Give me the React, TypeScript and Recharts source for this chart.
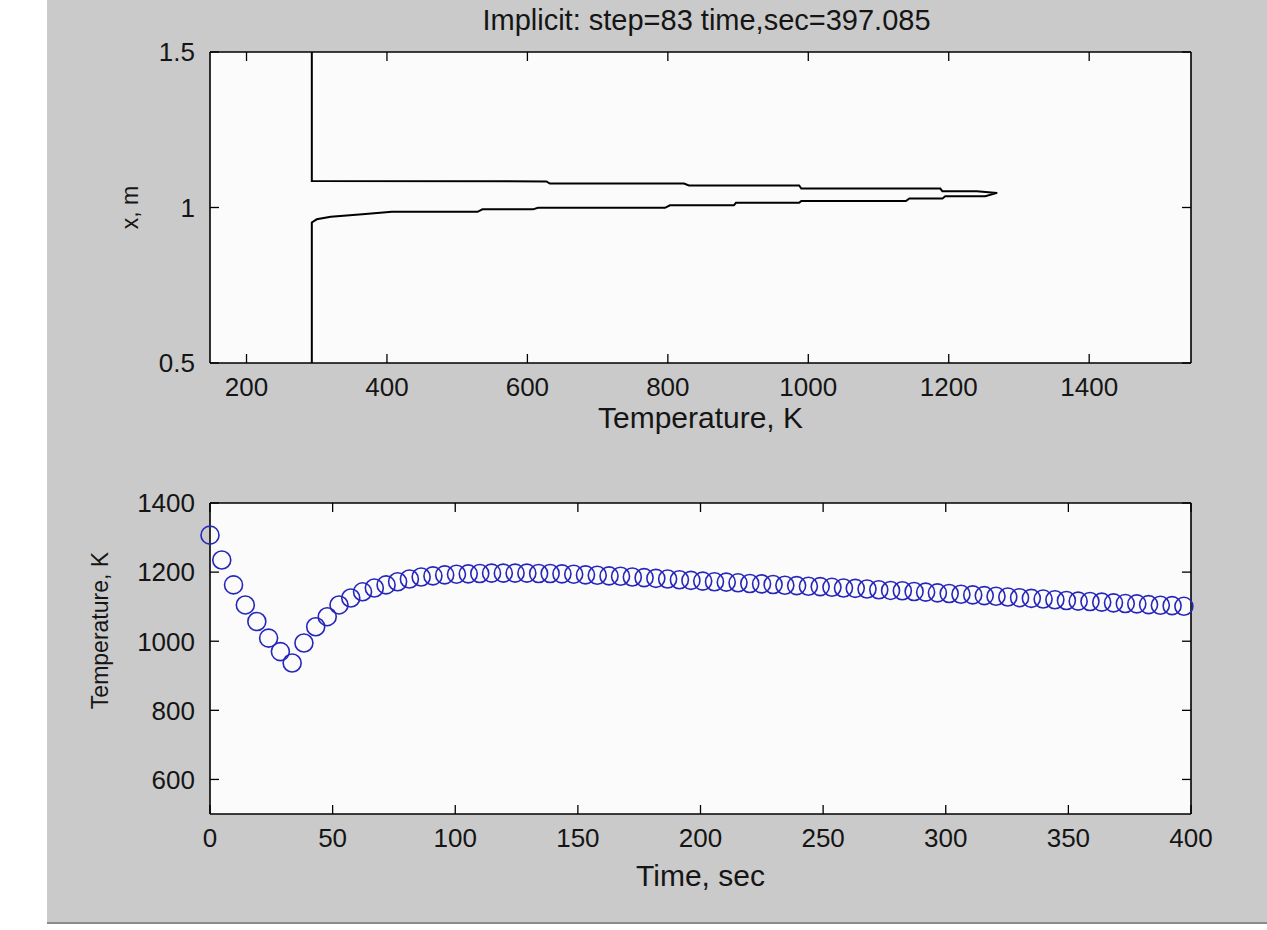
import { ScatterChart, Scatter, XAxis, YAxis, CartesianGrid, Label } from 'recharts'

// ─── Data ────────────────────────────────────────────────────────────────────

// top panel: temperature profile T(x) at the last step
const profileT = [293, 293, 300, 320, 365, 407, 529, 536, 608, 615, 796, 803, 894, 897, 987, 990, 1139, 1144, 1191, 1195, 1252, 1269, 1240, 1191, 1188, 990, 987, 830, 823, 632, 627, 293, 293]
const profileX = [0.5, 0.952, 0.962, 0.97, 0.978, 0.986, 0.986, 0.994, 0.994, 0.999, 0.999, 1.007, 1.007, 1.015, 1.015, 1.021, 1.021, 1.029, 1.029, 1.036, 1.036, 1.047, 1.052, 1.052, 1.061, 1.061, 1.071, 1.071, 1.077, 1.077, 1.084, 1.085, 1.5]

// bottom panel: peak temperature history, one marker per step
const times = [
  0, 4.8, 9.6, 14.4, 19.1, 23.9, 28.7, 33.5, 38.3, 43.1, 47.8, 52.6, 57.4, 62.2, 67.0, 71.8, 76.5, 81.3, 86.1, 90.9,
  95.7, 100.5, 105.3, 110.0, 114.8, 119.6, 124.4, 129.2, 134.0, 138.7, 143.5, 148.3, 153.1, 157.9, 162.7, 167.4,
  172.2, 177.0, 181.8, 186.6, 191.4, 196.1, 200.9, 205.7, 210.5, 215.3, 220.1, 224.9, 229.6, 234.4, 239.2, 244.0,
  248.8, 253.6, 258.3, 263.1, 267.9, 272.7, 277.5, 282.3, 287.1, 291.8, 296.6, 301.4, 306.2, 311.0, 315.7, 320.5,
  325.3, 330.1, 334.9, 339.7, 344.5, 349.2, 354.0, 358.8, 363.6, 368.4, 373.2, 377.9, 382.7, 387.5, 392.3, 397.1,
]
const peakTemps = [
  1307, 1235, 1163, 1105, 1057, 1009, 970, 937, 995, 1042, 1071, 1105, 1125, 1143, 1154, 1163, 1172, 1180, 1186, 1189,
  1192, 1194, 1195, 1196, 1197, 1197, 1197, 1197, 1196, 1196, 1195, 1194, 1192, 1191, 1189, 1188,
  1186, 1184, 1182, 1180, 1178, 1176, 1174, 1172, 1171, 1169, 1167, 1166, 1164, 1162, 1161, 1159,
  1158, 1156, 1154, 1153, 1151, 1149, 1147, 1146, 1144, 1142, 1140, 1138, 1136, 1134, 1132, 1130,
  1128, 1126, 1124, 1122, 1120, 1118, 1116, 1115, 1113, 1111, 1109, 1108, 1106, 1104, 1103, 1101,
]

const tempTicks = [200, 400, 600, 800, 1000, 1200, 1400]
const xTicks = [0.5, 1, 1.5]
const timeTicks = [0, 50, 100, 150, 200, 250, 300, 350, 400]
const histTicks = [600, 800, 1000, 1200, 1400]

const profile = profileT.map((T, i) => ({ T, x: profileX[i] }))
const history = times.map((t, i) => ({ t, temp: peakTemps[i] }))

// ─── Styling ─────────────────────────────────────────────────────────────────

const FONT = '"Liberation Sans", Arial, Helvetica, sans-serif'
const TICK_LEN = 9
const TICK_GAP = 14
const TICK_SIZE = 1 // recharts needs a non-zero size, the real tick is drawn below
const FRAME = { stroke: '#000', strokeWidth: 1.6 }

// MATLAB-style ticks: drawn inward from the frame
const BottomTick = ({ x, y, payload }: any) => {
  const axisY = y - TICK_GAP - TICK_SIZE
  return (
    <g>
      <line x1={x} x2={x} y1={axisY} y2={axisY - TICK_LEN} stroke="#000" strokeWidth={1.3} />
      <text x={x} y={y} dy="0.71em" textAnchor="middle" fontSize={26} fill="#151515" fontFamily={FONT}>
        {payload.value}
      </text>
    </g>
  )
}

const LeftTick = ({ x, y, payload }: any) => {
  const axisX = x + TICK_GAP + TICK_SIZE
  return (
    <g>
      <line x1={axisX} x2={axisX + TICK_LEN} y1={y} y2={y} stroke="#000" strokeWidth={1.3} />
      <text x={x} y={y} dy="0.36em" textAnchor="end" fontSize={26} fill="#151515" fontFamily={FONT}>
        {payload.value}
      </text>
    </g>
  )
}

const TopTick = ({ x, y }: any) => (
  <line x1={x} x2={x} y1={y + TICK_SIZE} y2={y + TICK_SIZE + TICK_LEN} stroke="#000" strokeWidth={1.3} />
)

const RightTick = ({ x, y }: any) => (
  <line x1={x - TICK_SIZE} x2={x - TICK_SIZE - TICK_LEN} y1={y} y2={y} stroke="#000" strokeWidth={1.3} />
)

const Nothing = () => <g />

const Ring = ({ cx, cy }: any) => (
  <circle cx={cx} cy={cy} r={9} fill="none" stroke="#2626bb" strokeWidth={1.6} />
)

// rotated y-axis title; `inset` from the axis box left edge, `lift` above its middle
const VerticalTitle = ({ viewBox, value, inset, lift }: any) => {
  const cx = viewBox.x + inset
  const cy = viewBox.y + viewBox.height / 2 - lift
  return (
    <text
      x={cx}
      y={cy}
      transform={`rotate(-90 ${cx} ${cy})`}
      textAnchor="middle"
      dominantBaseline="central"
      fontSize={23}
      fill="#151515"
      fontFamily={FONT}
    >
      {value}
    </text>
  )
}

const labelStyle = { fontSize: 30, fill: '#151515', fontFamily: FONT }

// ─── Component ───────────────────────────────────────────────────────────────

export default function App() {
  return (
    <div style={{ position: 'absolute', left: 0, top: 0, width: 1267, height: 930, background: '#fff', overflow: 'hidden' }}>
      <div
        style={{
          position: 'absolute',
          left: 47,
          top: 0,
          width: 1220,
          height: 922,
          background: '#cacaca',
          borderBottom: '2px solid #8c8c8c',
        }}
      />
      <div
        style={{
          position: 'absolute',
          left: 216,
          width: 981,
          top: 6,
          textAlign: 'center',
          fontFamily: FONT,
          fontSize: 29,
          lineHeight: '29px',
          color: '#151515',
        }}
      >
        Implicit: step=83 time,sec=397.085
      </div>

      {/* top panel */}
      <div style={{ position: 'absolute', left: 0, top: 0 }}>
        <ScatterChart width={1267} height={450} margin={{ top: 51, right: 75, bottom: 0, left: 100 }}>
          <CartesianGrid fill="#fbfbfb" horizontal={false} vertical={false} />
          <XAxis
            type="number"
            dataKey="T"
            domain={[148, 1545]}
            ticks={tempTicks}
            interval={0}
            tickSize={TICK_SIZE}
            tickLine={false}
            tickMargin={TICK_GAP}
            tick={<BottomTick />}
            axisLine={FRAME}
            height={87}
          >
            <Label value="Temperature, K" position="insideBottom" offset={22} style={labelStyle} />
          </XAxis>
          <YAxis
            type="number"
            dataKey="x"
            domain={[0.5, 1.5]}
            ticks={xTicks}
            interval={0}
            tickSize={TICK_SIZE}
            tickLine={false}
            tickMargin={TICK_GAP}
            tick={<LeftTick />}
            axisLine={FRAME}
            width={110}
          >
            <Label value="x, m" content={<VerticalTitle inset={30} lift={0} />} />
          </YAxis>
          <XAxis
            xAxisId="top"
            orientation="top"
            type="number"
            dataKey="T"
            domain={[148, 1545]}
            ticks={tempTicks}
            interval={0}
            tickSize={TICK_SIZE}
            tickLine={false}
            tickMargin={0}
            tick={<TopTick />}
            axisLine={FRAME}
            height={1}
          />
          <YAxis
            yAxisId="right"
            orientation="right"
            type="number"
            dataKey="x"
            domain={[0.5, 1.5]}
            ticks={xTicks}
            interval={0}
            tickSize={TICK_SIZE}
            tickLine={false}
            tickMargin={0}
            tick={<RightTick />}
            axisLine={FRAME}
            width={1}
          />
          <Scatter
            data={profile}
            line={{ stroke: '#000', strokeWidth: 2 }}
            lineType="joint"
            shape={<Nothing />}
            isAnimationActive={false}
          />
          <Scatter data={profile} xAxisId="top" yAxisId="right" shape={<Nothing />} isAnimationActive={false} />
        </ScatterChart>
      </div>

      {/* bottom panel */}
      <div style={{ position: 'absolute', left: 0, top: 450 }}>
        <ScatterChart width={1267} height={480} margin={{ top: 52, right: 75, bottom: 0, left: 80 }}>
          <CartesianGrid fill="#fbfbfb" horizontal={false} vertical={false} />
          <XAxis
            type="number"
            dataKey="t"
            domain={[0, 400]}
            ticks={timeTicks}
            interval={0}
            tickSize={TICK_SIZE}
            tickLine={false}
            tickMargin={TICK_GAP}
            tick={<BottomTick />}
            axisLine={FRAME}
            height={116}
          >
            <Label value="Time, sec" position="insideBottom" offset={44} style={labelStyle} />
          </XAxis>
          <YAxis
            type="number"
            dataKey="temp"
            domain={[500, 1400]}
            ticks={histTicks}
            interval={0}
            tickSize={TICK_SIZE}
            tickLine={false}
            tickMargin={TICK_GAP}
            tick={<LeftTick />}
            axisLine={FRAME}
            width={130}
          >
            <Label value="Temperature, K" content={<VerticalTitle inset={20} lift={28} />} />
          </YAxis>
          <XAxis
            xAxisId="top"
            orientation="top"
            type="number"
            dataKey="t"
            domain={[0, 400]}
            ticks={timeTicks}
            interval={0}
            tickSize={TICK_SIZE}
            tickLine={false}
            tickMargin={0}
            tick={<TopTick />}
            axisLine={FRAME}
            height={1}
          />
          <YAxis
            yAxisId="right"
            orientation="right"
            type="number"
            dataKey="temp"
            domain={[500, 1400]}
            ticks={histTicks}
            interval={0}
            tickSize={TICK_SIZE}
            tickLine={false}
            tickMargin={0}
            tick={<RightTick />}
            axisLine={FRAME}
            width={1}
          />
          <Scatter data={history} shape={<Ring />} isAnimationActive={false} />
          <Scatter data={history} xAxisId="top" yAxisId="right" shape={<Nothing />} isAnimationActive={false} />
        </ScatterChart>
      </div>
    </div>
  )
}
